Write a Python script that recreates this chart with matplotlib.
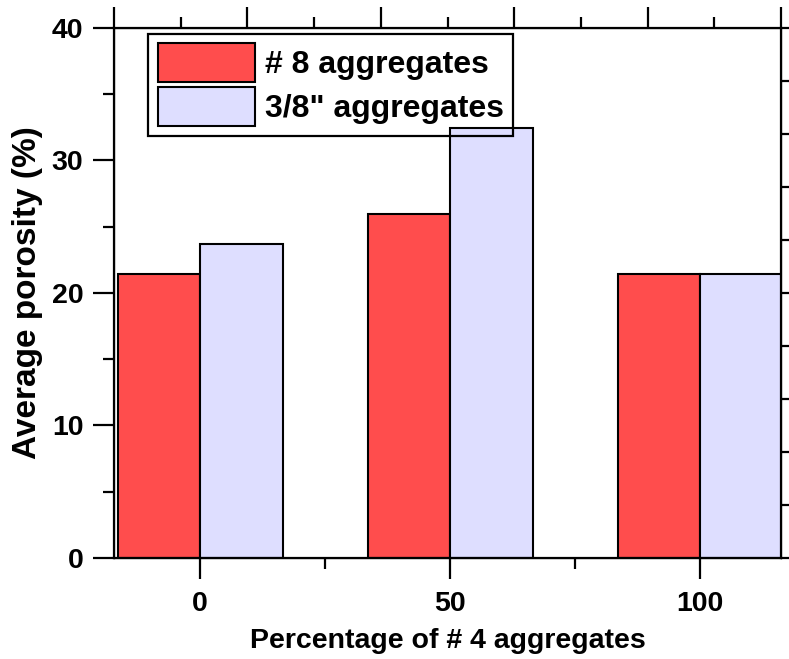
import matplotlib
matplotlib.use("Agg")
import matplotlib.pyplot as plt
import numpy as np
from matplotlib.ticker import MultipleLocator, NullFormatter

plt.rcParams["font.family"] = ["Liberation Sans", "DejaVu Sans"]
plt.rcParams["font.weight"] = "bold"

categories = [0, 50, 100]
no8_values = [21.43, 25.96, 21.43]
three_eighths_values = [23.72, 32.45, 21.43]
series_labels = ["# 8 aggregates", '3/8" aggregates']

RED = "#FF4D4D"
LAVENDER = "#DEDEFF"

fig = plt.figure(figsize=(7.89, 6.59), dpi=100)
ax = fig.add_axes([0.1445, 0.1533, 0.8454, 0.8042])

x = np.array(categories, dtype=float)
width = 16.5
ax.bar(x - width / 2, no8_values, width, color=RED, edgecolor="black", linewidth=1.5, label=series_labels[0])
ax.bar(x + width / 2, three_eighths_values, width, color=LAVENDER, edgecolor="black", linewidth=1.5, label=series_labels[1])

ax.set_xlim(-17.2, 116.2)
ax.set_ylim(0, 40)
ax.set_xticks(categories)
ax.xaxis.set_minor_locator(MultipleLocator(25))
ax.yaxis.set_major_locator(MultipleLocator(10))
ax.yaxis.set_minor_locator(MultipleLocator(5))

for spine in ax.spines.values():
    spine.set_linewidth(1.6)

ax.tick_params(axis="both", which="major", direction="out", length=15, width=1.6, labelsize=20.5)
ax.tick_params(axis="both", which="minor", direction="out", length=8, width=1.6)
ax.tick_params(axis="x", which="major", pad=9)
ax.tick_params(axis="y", which="major", pad=7)

# top and right axes with their own tick spacing, no labels
top = ax.twiny()
top.set_xlim(0, 1)
top.xaxis.set_major_locator(MultipleLocator(0.2))
top.xaxis.set_minor_locator(MultipleLocator(0.1))
top.xaxis.set_major_formatter(NullFormatter())
top.tick_params(axis="x", which="major", direction="out", length=15, width=1.6)
top.tick_params(axis="x", which="minor", direction="out", length=8, width=1.6)

right = ax.twinx()
right.set_ylim(0, 1)
right.yaxis.set_major_locator(MultipleLocator(0.2))
right.yaxis.set_minor_locator(MultipleLocator(0.1))
right.yaxis.set_major_formatter(NullFormatter())
right.tick_params(axis="y", which="major", direction="out", length=15, width=1.6)
right.tick_params(axis="y", which="minor", direction="out", length=8, width=1.6)

ax.set_xlabel("Percentage of # 4 aggregates", fontsize=20.5, fontweight="bold", labelpad=8)
ax.set_ylabel("Average porosity (%)", fontsize=24, fontweight="bold", labelpad=6)

leg = ax.legend(loc="upper left", bbox_to_anchor=(0.051, 0.989), borderaxespad=0,
                fontsize=23, frameon=True, fancybox=False, edgecolor="black",
                facecolor="none", framealpha=1,
                handlelength=3.05, handleheight=1.5, handletextpad=0.3,
                labelspacing=0.15, borderpad=0.3)
leg.get_frame().set_linewidth(1.6)
leg.set_zorder(5)

fig.savefig("out.png", dpi=100)
